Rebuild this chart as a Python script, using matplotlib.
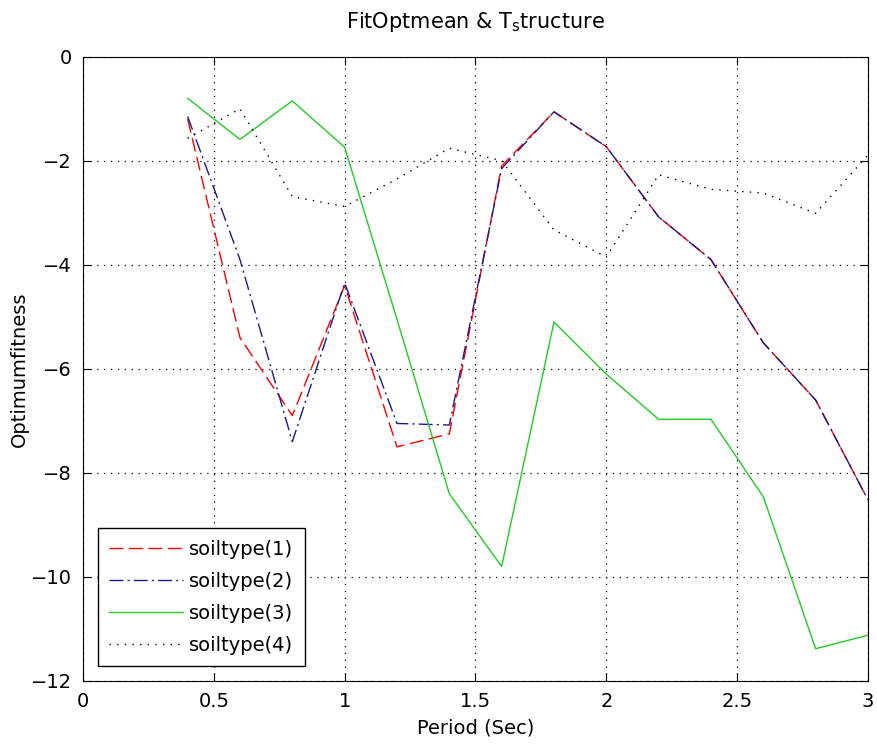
import numpy as np
import matplotlib
matplotlib.use("Agg")
import matplotlib.pyplot as plt

plt.rcParams['font.family'] = ['DejaVu Sans']
plt.rcParams['mathtext.fontset'] = 'dejavusans'

# periodo (s)
periodo = [0.4, 0.6, 0.8, 1.0, 1.2, 1.4, 1.6, 1.8, 2.0, 2.2, 2.4, 2.6, 2.8, 3.0]

suelo1 = [-1.2, -5.4, -6.9, -4.4, -7.5, -7.25, -2.1, -1.06, -1.73, -3.08, -3.9, -5.5, -6.6, -8.52]
suelo2 = [-1.15, -3.9, -7.4, -4.35, -7.05, -7.08, -2.15, -1.06, -1.73, -3.08, -3.9, -5.5, -6.6, -8.52]
suelo3 = [-0.8, -1.59, -0.85, -1.74, -5.05, -8.4, -9.8, -5.1, -6.1, -6.97, -6.97, -8.46, -11.38, -11.12]
suelo4 = [-1.57, -1.0, -2.69, -2.88, -2.35, -1.76, -2.0, -3.33, -3.85, -2.27, -2.55, -2.62, -3.01, -1.89]

etiquetas = ['soiltype(1)', 'soiltype(2)', 'soiltype(3)', 'soiltype(4)']

fig = plt.figure(figsize=(8.78, 7.44), dpi=100)
ax = fig.add_axes([0.0945, 0.0847, 0.8941, 0.8391])

ax.plot(periodo, suelo1, color='#ff0000', linestyle=(0, (10, 4)), linewidth=1, label=etiquetas[0])
ax.plot(periodo, suelo2, color='#1a1a8c', linestyle=(0, (10, 3, 1.5, 3)), linewidth=1, label=etiquetas[1])
ax.plot(periodo, suelo3, color='#22cc22', linestyle='-', linewidth=1, label=etiquetas[2])
ax.plot(periodo, suelo4, color='black', linestyle=(0, (1, 4.5)), linewidth=1, label=etiquetas[3])

ax.set_xlim(0, 3)
ax.set_ylim(-12, 0)
ax.set_xticks(np.arange(0, 3.01, 0.5))
ax.set_xticklabels(['0', '0.5', '1', '1.5', '2', '2.5', '3'])
ax.set_yticks(np.arange(-12, 0.01, 2))
ax.grid(True, color='black', linestyle=(0, (1, 4.5)), linewidth=0.9)
ax.tick_params(direction='in', top=True, right=True, length=6, labelsize=14, pad=8)

ax.set_title(r'FitOptmean & T$_{\mathrm{s}}$tructure', fontsize=15, pad=21)
ax.set_xlabel('Period (Sec)', fontsize=14, labelpad=5)
ax.set_ylabel('Optimumfitness', fontsize=14, labelpad=1)

leg = ax.legend(loc='lower left', fontsize=14, fancybox=False, framealpha=1,
                edgecolor='black', borderaxespad=0.75, handlelength=3.8,
                handletextpad=0.3, labelspacing=0.67, borderpad=0.6)
leg.get_frame().set_linewidth(1.0)

plt.savefig('out.png', dpi=100)
